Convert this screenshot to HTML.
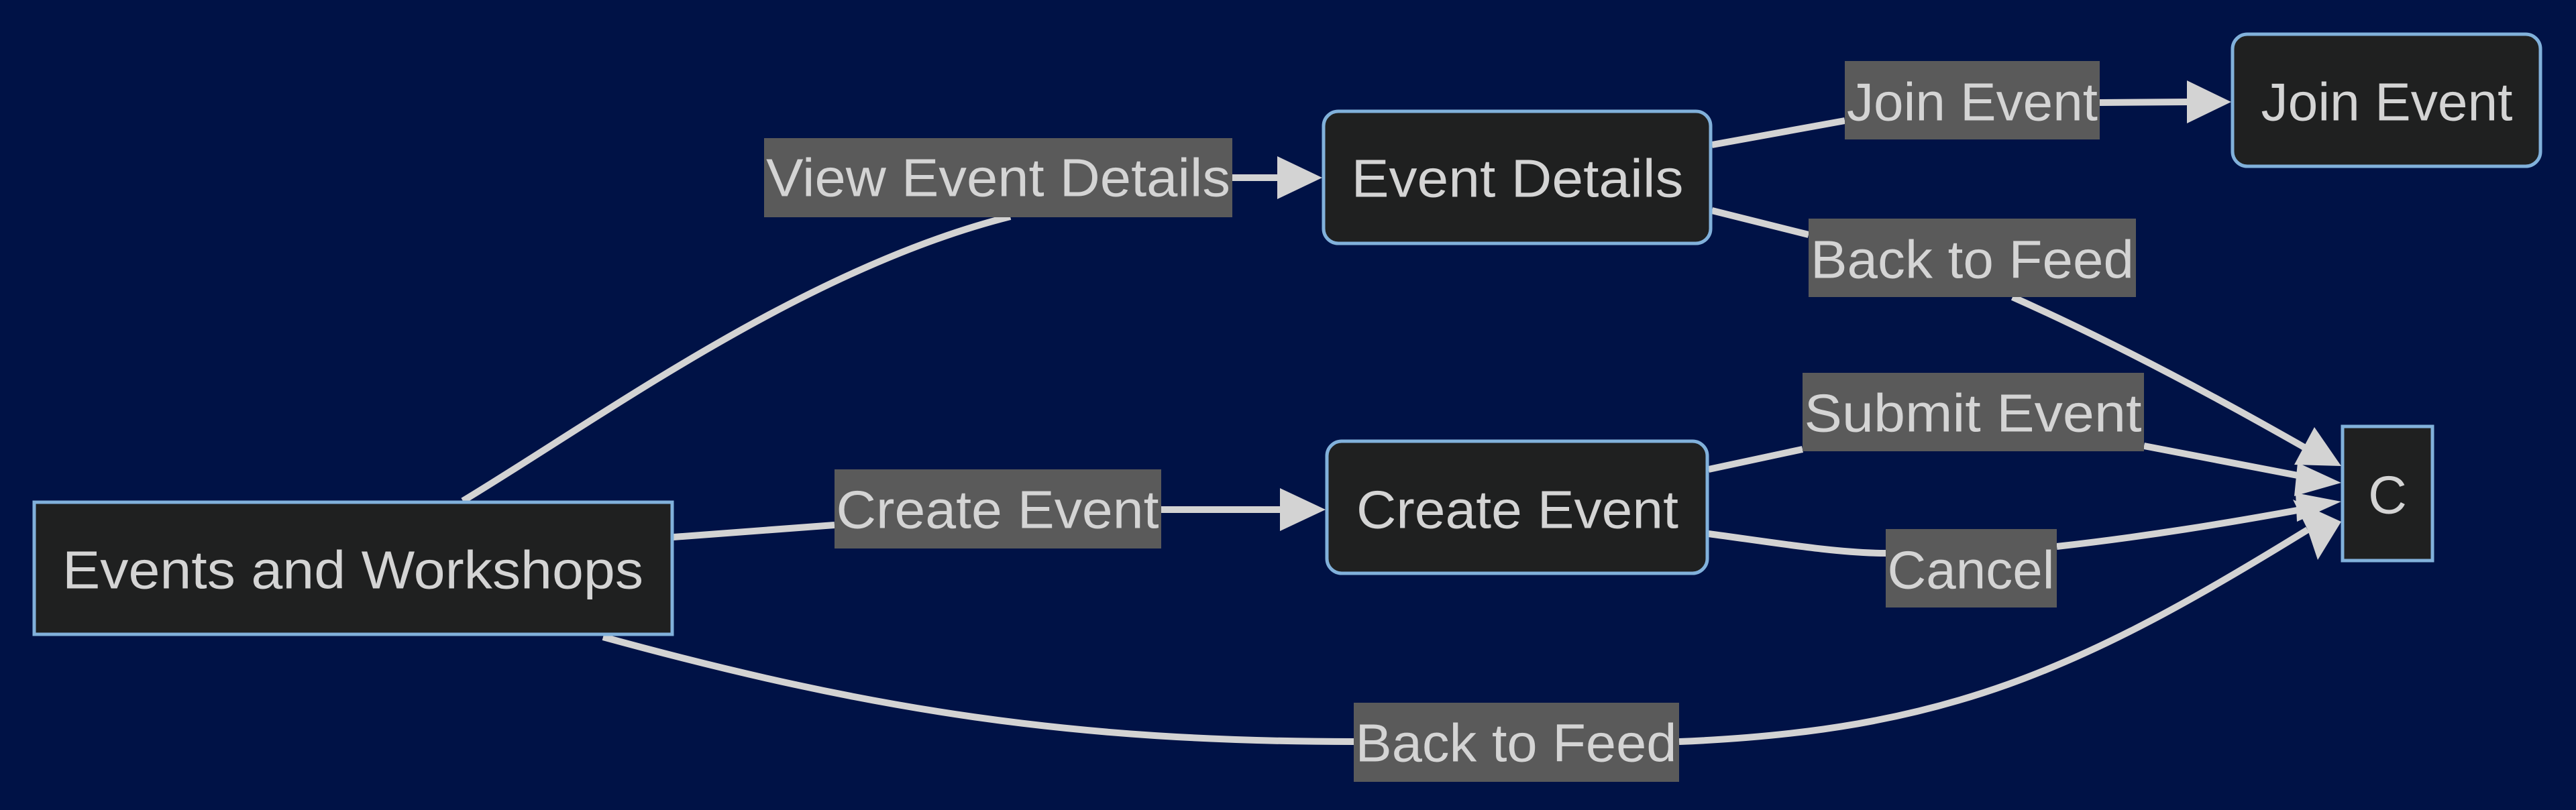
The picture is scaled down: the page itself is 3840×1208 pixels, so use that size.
<!DOCTYPE html>
<html><head><meta charset="utf-8"><style>
html,body{margin:0;padding:0;background:#001246;}
svg{display:block}
text{font-family:"Liberation Sans",sans-serif;fill:#d4d4d4;font-size:80px;dominant-baseline:central;text-anchor:middle}
.n{fill:#1f2020;stroke:#81b1db;stroke-width:5}
.l{fill:#5a5a5a}
.e{fill:none;stroke:#d3d3d3;stroke-width:10}
.a{fill:#d3d3d3}
</style></head><body>
<svg width="3840" height="1208" viewBox="0 0 3840 1208" xmlns="http://www.w3.org/2000/svg">
<rect width="3840" height="1208" fill="#001246"/>
<!-- edges -->
<path class="e" d="M690,747 C900,620 1200,400 1506,323"/>
<path class="e" d="M1837,265 L1910,265"/>
<polygon class="a" points="1904,233 1971,265 1904,297"/>
<path class="e" d="M1004,801 L1244,783"/>
<path class="e" d="M1731,760 L1912,760"/>
<polygon class="a" points="1908,728 1976,760 1908,792"/>
<path class="e" d="M899,950 C1300,1060 1600,1106 2018,1106"/>
<path class="e" d="M2503,1106 C2900,1090 3100,1000 3440,790"/>
<polygon class="a" points="3418,745 3490,778 3455,835 3440,790"/>
<path class="e" d="M2552,216 L2750,180"/>
<path class="e" d="M3130,153 L3262,152"/>
<polygon class="a" points="3260,120 3326,152 3260,184"/>
<path class="e" d="M2552,314 L2696,350"/>
<path class="e" d="M3000,443 C3150,510 3300,590 3440,670"/>
<polygon class="a" points="3450,637 3490,695 3420,693"/>
<path class="e" d="M2547,700 L2687,670"/>
<path class="e" d="M3196,665 L3430,710"/>
<polygon class="a" points="3425,690 3490,720 3420,740"/>
<path class="e" d="M2547,796 C2650,810 2740,825 2811,825"/>
<path class="e" d="M3066,815 C3200,800 3320,780 3430,760"/>
<polygon class="a" points="3422,735 3490,748 3424,778"/>
<!-- nodes -->
<rect class="n" x="51" y="749" width="951" height="197"/>
<text x="526" y="850" textLength="866" lengthAdjust="spacingAndGlyphs">Events and Workshops</text>
<rect class="n" x="1973" y="166" width="577" height="197" rx="22"/>
<text x="2262" y="266" textLength="495" lengthAdjust="spacingAndGlyphs">Event Details</text>
<rect class="n" x="3328" y="51" width="459" height="197" rx="22"/>
<text x="3558" y="152" textLength="375" lengthAdjust="spacingAndGlyphs">Join Event</text>
<rect class="n" x="1978" y="658" width="567" height="197" rx="22"/>
<text x="2262" y="760" textLength="480" lengthAdjust="spacingAndGlyphs">Create Event</text>
<rect class="n" x="3492" y="636" width="134" height="200"/>
<text x="3559" y="738">C</text>
<!-- labels -->
<rect class="l" x="1139" y="206" width="698" height="118"/>
<text x="1488" y="265" textLength="692" lengthAdjust="spacingAndGlyphs">View Event Details</text>
<rect class="l" x="2750" y="91" width="380" height="117"/>
<text x="2940" y="152" textLength="374" lengthAdjust="spacingAndGlyphs">Join Event</text>
<rect class="l" x="2696" y="326" width="488" height="117"/>
<text x="2940" y="387" textLength="482" lengthAdjust="spacingAndGlyphs">Back to Feed</text>
<rect class="l" x="2687" y="556" width="509" height="117"/>
<text x="2941" y="616" textLength="503" lengthAdjust="spacingAndGlyphs">Submit Event</text>
<rect class="l" x="1244" y="700" width="487" height="118"/>
<text x="1487" y="760" textLength="481" lengthAdjust="spacingAndGlyphs">Create Event</text>
<rect class="l" x="2811" y="789" width="255" height="117"/>
<text x="2938" y="850" textLength="249" lengthAdjust="spacingAndGlyphs">Cancel</text>
<rect class="l" x="2018" y="1048" width="485" height="118"/>
<text x="2260" y="1108" textLength="479" lengthAdjust="spacingAndGlyphs">Back to Feed</text>
</svg>
</body></html>
